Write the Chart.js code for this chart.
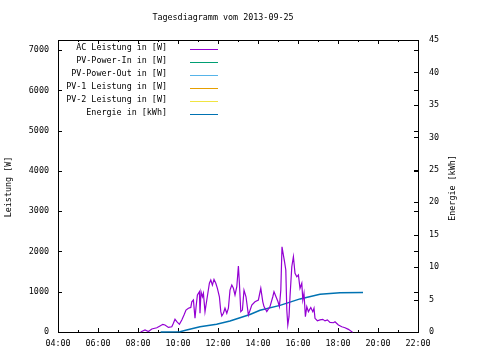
<!DOCTYPE html>
<html><head><meta charset="utf-8">
<script src="https://cdn.jsdelivr.net/npm/chart.js@4/dist/chart.umd.min.js"></script>
<style>html,body{margin:0;padding:0;background:#fff}#wrap{width:480px;height:360px;position:relative}</style>
</head><body><div id="wrap"><canvas id="c" width="480" height="360"></canvas></div>
<script>
const titleText = 'Tagesdiagramm vom 2013-09-25';
const leftAxisTitle = 'Leistung [W]';
const rightAxisTitle = 'Energie [kWh]';

const seriesLabels = ['AC Leistung in [W]', 'PV-Power-In in [W]', 'PV-Power-Out in [W]', 'PV-1 Leistung in [W]', 'PV-2 Leistung in [W]', 'Energie in [kWh]'];
const seriesColors = ['#9400d3', '#009e73', '#56b4e9', '#e69f00', '#f0e442', '#0072b2'];

// hours of day (decimal) and AC power in W
const acTime = [8.13,8.35,8.52,8.69,8.94,9.10,9.24,9.35,9.52,9.69,9.77,9.85,9.94,10.07,10.19,10.30,10.40,10.52,10.64,10.69,10.77,10.85,10.90,10.97,11.07,11.10,11.15,11.22,11.27,11.35,11.44,11.57,11.64,11.72,11.80,11.89,11.97,12.07,12.14,12.19,12.27,12.35,12.44,12.52,12.60,12.69,12.77,12.85,12.94,13.02,13.07,13.14,13.22,13.30,13.40,13.52,13.69,13.85,14.02,14.14,14.24,14.30,14.44,14.60,14.74,14.80,14.90,15.00,15.07,15.14,15.20,15.27,15.33,15.39,15.44,15.49,15.55,15.60,15.69,15.77,15.85,15.94,16.02,16.10,16.19,16.24,16.30,16.37,16.44,16.52,16.64,16.74,16.80,16.85,16.97,17.10,17.24,17.35,17.47,17.60,17.77,17.85,18.02,18.19,18.35,18.52,18.69,18.74];
const acWatt = [0,50,10,75,105,150,190,175,115,130,215,315,255,190,300,420,545,590,610,750,795,340,610,920,1000,465,1000,875,960,505,795,1210,1290,1165,1305,1210,1085,875,505,400,465,590,465,590,1040,1165,1085,920,1125,1640,1210,505,545,1040,875,420,670,750,795,1085,750,630,505,630,875,1000,875,750,630,1040,2115,1910,1735,1540,545,175,380,875,1620,1870,1455,1370,1415,1085,1210,795,960,380,630,505,610,505,590,340,280,300,315,275,300,240,230,255,175,130,105,65,5,0];

// cumulative energy in kWh
const energyTime = [9.13,10.10,10.43,11.10,11.93,12.60,13.10,13.60,14.10,15.10,16.10,17.10,18.10,19.25];
const energyKwh = [0,0.05,0.3,0.8,1.2,1.7,2.2,2.7,3.35,4.1,5.1,5.8,6.05,6.1];

// series without plotted values on this day
const pvInWatt = [];
const pvOutWatt = [];
const pv1Watt = [];
const pv2Watt = [];

const xTicksMajor = [4,6,8,10,12,14,16,18,20,22];
const yTicks = [0,1000,2000,3000,4000,5000,6000,7000];
const y2Ticks = [0,5,10,15,20,25,30,35,40,45];
const FONT = '"DejaVu Sans Mono", monospace';
const FSIZE = 8.4;

function pts(t, v){ return t.map((x,i)=>({x:x,y:v[i]})); }

const datasets = [
  {label: seriesLabels[0], data: pts(acTime, acWatt), borderColor: seriesColors[0], borderWidth: 1.2, yAxisID: 'y'},
  {label: seriesLabels[1], data: pvInWatt, borderColor: seriesColors[1], borderWidth: 1, yAxisID: 'y'},
  {label: seriesLabels[2], data: pvOutWatt, borderColor: seriesColors[2], borderWidth: 1, yAxisID: 'y'},
  {label: seriesLabels[3], data: pv1Watt, borderColor: seriesColors[3], borderWidth: 1, yAxisID: 'y'},
  {label: seriesLabels[4], data: pv2Watt, borderColor: seriesColors[4], borderWidth: 1, yAxisID: 'y'},
  {label: seriesLabels[5], data: pts(energyTime, energyKwh), borderColor: seriesColors[5], borderWidth: 1.5, yAxisID: 'y2'}
].map(d => Object.assign(d, {pointRadius: 0, fill: false, tension: 0, clip: 3}));

const gnuplotDecor = {
  id: 'gnuplotDecor',
  beforeDatasetsDraw(chart){
    const ctx = chart.ctx, a = chart.chartArea;
    const sx = chart.scales.x, sy = chart.scales.y, sy2 = chart.scales.y2;
    ctx.save();
    ctx.strokeStyle = '#000'; ctx.lineWidth = 1;
    ctx.strokeRect(Math.round(a.left)+0.5, Math.round(a.top)+0.5, Math.round(a.right-a.left), Math.round(a.bottom-a.top));
    ctx.beginPath();
    for (let h = 4; h <= 22; h++) {
      const px = Math.round(sx.getPixelForValue(h)) + 0.5;
      const len = (h % 2 === 0) ? 4 : 2;
      ctx.moveTo(px, a.bottom); ctx.lineTo(px, a.bottom - len);
      ctx.moveTo(px, a.top); ctx.lineTo(px, a.top + len);
    }
    sy.ticks.forEach(t => {
      const py = Math.round(sy.getPixelForValue(t.value)) + 0.5;
      ctx.moveTo(a.left, py); ctx.lineTo(a.left + 4, py);
      ctx.moveTo(a.right, py); ctx.lineTo(a.right - 4, py);
    });
    sy2.ticks.forEach(t => {
      const py = Math.round(sy2.getPixelForValue(t.value)) + 0.5;
      ctx.moveTo(a.right, py); ctx.lineTo(a.right - 4, py);
    });
    ctx.stroke();
    ctx.restore();
  },
  afterDraw(chart){
    const ctx = chart.ctx;
    ctx.save();
    ctx.fillStyle = '#000';
    ctx.font = FSIZE + 'px ' + FONT;
    ctx.textAlign = 'center'; ctx.textBaseline = 'middle';
    ctx.fillText(titleText, 223, 18);
    ctx.save(); ctx.translate(9, 187); ctx.rotate(-Math.PI/2); ctx.fillText(leftAxisTitle, 0, 0); ctx.restore();
    ctx.save(); ctx.translate(453, 188); ctx.rotate(-Math.PI/2); ctx.fillText(rightAxisTitle, 0, 0); ctx.restore();
    chart.data.datasets.forEach((d, i) => {
      const y = 47.5 + 13 * i;
      ctx.textAlign = 'right';
      ctx.fillStyle = '#000';
      ctx.fillText(d.label, 167, y);
      ctx.beginPath();
      ctx.strokeStyle = d.borderColor; ctx.lineWidth = 1;
      ctx.moveTo(190, Math.round(y) + 1.5); ctx.lineTo(218, Math.round(y) + 1.5);
      ctx.stroke();
    });
    ctx.restore();
  }
};

new Chart(document.getElementById('c'), {
  type: 'line',
  data: { datasets: datasets },
  options: {
    responsive: false,
    animation: false,
    layout: { padding: { top: 40, left: 0, right: 0, bottom: 0 } },
    plugins: { legend: { display: false }, title: { display: false }, tooltip: { enabled: false } },
    scales: {
      x: {
        type: 'linear', position: 'bottom', min: 4, max: 22,
        afterFit(s){ s.height = 28; },
        afterBuildTicks(s){ s.ticks = xTicksMajor.map(v => ({value: v})); },
        grid: { display: false, drawTicks: false },
        border: { display: false },
        ticks: {
          autoSkip: false, maxRotation: 0, padding: 7, color: '#000',
          font: { family: FONT, size: FSIZE },
          callback: v => String(v).padStart(2, '0') + ':00'
        }
      },
      y: {
        type: 'linear', position: 'left', min: 0, max: 7250,
        afterFit(s){ s.width = 58; },
        afterBuildTicks(s){ s.ticks = yTicks.map(v => ({value: v})); },
        grid: { display: false, drawTicks: false },
        border: { display: false },
        ticks: { autoSkip: false, padding: 9, color: '#000', font: { family: FONT, size: FSIZE }, callback: v => String(v) }
      },
      y2: {
        type: 'linear', position: 'right', min: 0, max: 45,
        afterFit(s){ s.width = 62; },
        afterBuildTicks(s){ s.ticks = y2Ticks.map(v => ({value: v})); },
        grid: { display: false, drawTicks: false },
        border: { display: false },
        ticks: { autoSkip: false, padding: 11, color: '#000', font: { family: FONT, size: FSIZE }, callback: v => String(v) }
      }
    }
  },
  plugins: [gnuplotDecor]
});
</script>
</body></html>
